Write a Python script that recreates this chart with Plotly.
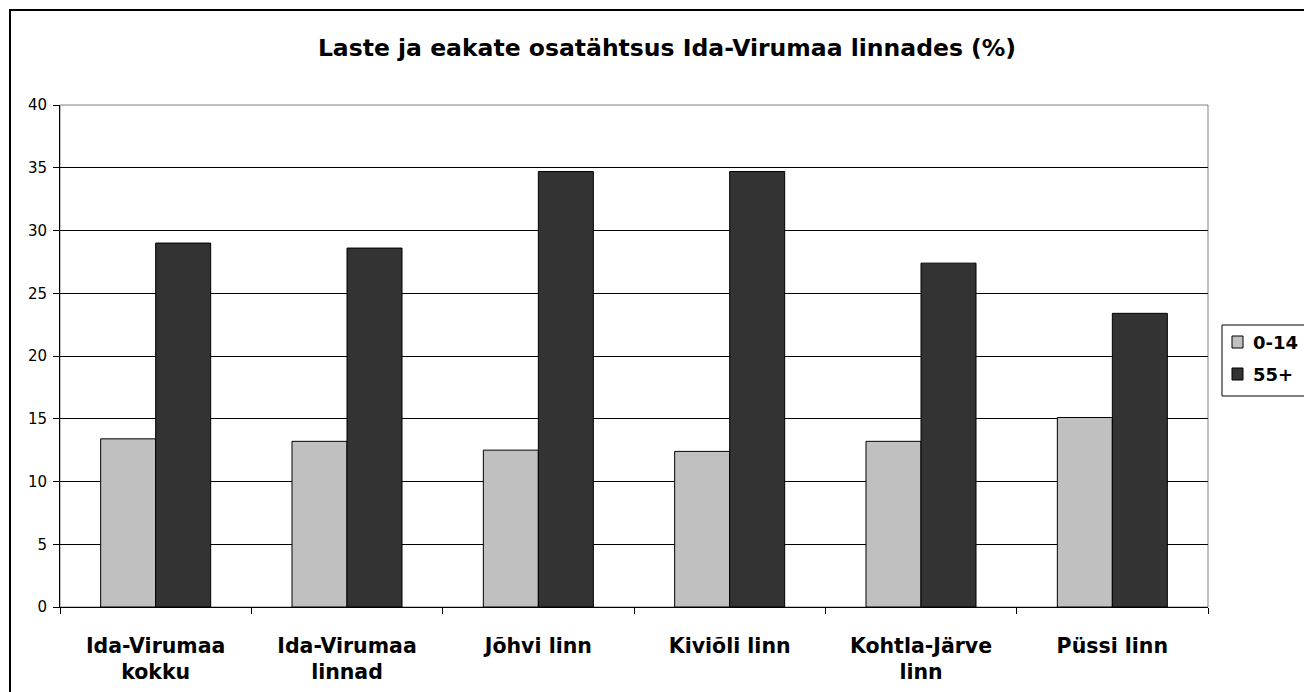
import plotly.graph_objects as go

categories = ["Ida-Virumaa<br>kokku", "Ida-Virumaa<br>linnad", "Jõhvi linn",
              "Kiviõli linn", "Kohtla-Järve<br>linn", "Püssi linn"]
series_names = ["0-14", "55+"]
series_colors = ["#C0C0C0", "#333333"]
values_0_14 = [13.4, 13.2, 12.5, 12.4, 13.2, 15.1]
values_55 = [29.0, 28.6, 34.7, 34.7, 27.4, 23.4]
y_ticks = [0, 5, 10, 15, 20, 25, 30, 35, 40]
title_text = "Laste ja eakate osatähtsus Ida-Virumaa linnades (%)"

FONT = "DejaVu Sans"
W, H = 1304, 692
# plot area in screen pixels: x 60..1208, y 105..607
L, R, T, B = 60, W - 1208, 105, H - 607
pw, ph = W - L - R, H - T - B


def px_x(x):  # screen pixel -> paper
    return (x - L) / pw


def px_y(y):
    return (H - B - y) / ph


fig = go.Figure()
fig.add_trace(go.Bar(x=categories, y=values_0_14, name=series_names[0],
                     marker=dict(color=series_colors[0], line=dict(color="#000000", width=1))))
fig.add_trace(go.Bar(x=categories, y=values_55, name=series_names[1],
                     marker=dict(color=series_colors[1], line=dict(color="#000000", width=1))))

fig.update_layout(
    width=W, height=H,
    margin=dict(l=L, r=R, t=T, b=B, autoexpand=False),
    paper_bgcolor="white", plot_bgcolor="white",
    barmode="group", bargap=0.425, bargroupgap=0,
    font=dict(family=FONT, color="#000000"),
    title=dict(text="<b>" + title_text + "</b>", x=667 / W,
               xanchor="center", y=1 - 48 / H, yanchor="middle",
               font=dict(family=FONT, size=23.5, color="#000000")),
    showlegend=False,
)

fig.update_yaxes(range=[0, 40], tickvals=y_ticks, ticks="outside", ticklen=6,
                 tickcolor="#000000", showline=True, linecolor="#000000", linewidth=1,
                 showgrid=True, gridcolor="#000000", gridwidth=1, zeroline=False,
                 ticklabelstandoff=3,
                 tickfont=dict(family=FONT, size=15, color="#000000"))
fig.update_xaxes(ticks="outside", tickson="boundaries", ticklen=6, tickcolor="#000000",
                 showline=True, linecolor="#000000", linewidth=1, showgrid=False,
                 ticklabelstandoff=20,
                 tickfont=dict(family=FONT, size=20.5, color="#000000", weight="bold"))

# plot-area border (gray, right and top)
fig.add_shape(type="rect", xref="paper", yref="paper", x0=0, y0=0, x1=1, y1=1,
              line=dict(color="#808080", width=1), layer="below")
# outer chart border
fig.add_shape(type="rect", xref="paper", yref="paper",
              x0=px_x(10), y0=-0.5, x1=1.5, y1=px_y(10),
              line=dict(color="#000000", width=2))

# legend box (drawn manually, clipped at the right edge like the reference)
fig.add_shape(type="rect", xref="paper", yref="paper",
              x0=px_x(1222), x1=px_x(1340), y0=px_y(396), y1=px_y(325),
              line=dict(color="#000000", width=1), fillcolor="white")
legend_rows = [342, 374]
for name, color, yc in zip(series_names, series_colors, legend_rows):
    fig.add_shape(type="rect", xref="paper", yref="paper",
                  x0=px_x(1232), x1=px_x(1243), y0=px_y(yc + 6), y1=px_y(yc - 6),
                  line=dict(color="#000000", width=1), fillcolor=color)
    fig.add_annotation(xref="paper", yref="paper", x=px_x(1251), y=px_y(yc),
                       xanchor="left", yanchor="middle", showarrow=False,
                       text="<b>" + name + "</b>",
                       font=dict(family=FONT, size=18, color="#000000"))

fig.write_html(
    "out.html",
    config={"displayModeBar": False},
    post_script="document.body.style.margin='0';document.body.style.overflow='hidden';",
)
